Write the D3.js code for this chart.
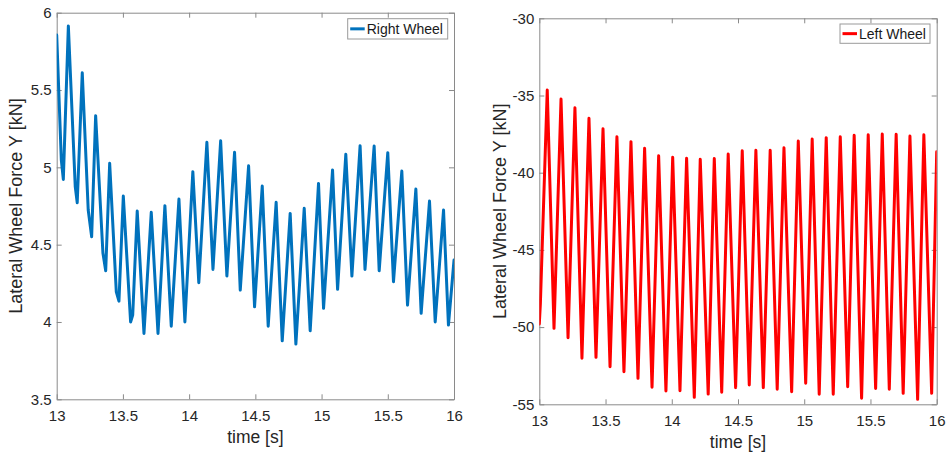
<!DOCTYPE html>
<html><head><meta charset="utf-8">
<script src="https://cdn.jsdelivr.net/npm/d3@7"></script>
<style>body{margin:0;background:#fff}svg{display:block}</style>
</head><body><svg id="c" width="948" height="456"></svg>
<script>
// ---- data ----
const timeTicks = [13, 13.5, 14, 14.5, 15, 15.5, 16];
const rightWheelTicks = [3.5, 4, 4.5, 5, 5.5, 6];
const leftWheelTicks = [-55, -50, -45, -40, -35, -30];

const rightWheelTime = [13.000,13.035,13.050,13.088,13.140,13.155,13.193,13.238,13.264,13.294,13.349,13.370,13.400,13.450,13.470,13.503,13.558,13.574,13.608,13.659,13.714,13.765,13.817,13.865,13.923,13.968,14.028,14.073,14.134,14.180,14.238,14.285,14.343,14.386,14.449,14.494,14.552,14.597,14.657,14.703,14.763,14.806,14.869,14.914,14.977,15.015,15.083,15.121,15.183,15.229,15.291,15.328,15.397,15.435,15.500,15.543,15.606,15.649,15.712,15.752,15.815,15.858,15.921,15.958,16.000];
const rightWheelForce = [5.856,5.047,4.922,5.914,4.875,4.771,5.612,4.724,4.551,5.334,4.446,4.331,5.026,4.195,4.135,4.814,4.000,4.045,4.717,3.926,4.709,3.926,4.752,3.973,4.795,4.000,4.972,4.254,5.162,4.340,5.172,4.297,5.097,4.206,5.010,4.098,4.879,3.973,4.774,3.878,4.702,3.857,4.735,3.943,4.896,4.088,4.983,4.211,5.084,4.297,5.140,4.340,5.138,4.331,5.095,4.260,4.976,4.109,4.860,4.056,4.782,4.000,4.724,3.980,4.400];

const leftWheelTime = [13.000,13.008,13.060,13.111,13.164,13.217,13.269,13.322,13.375,13.428,13.481,13.534,13.586,13.639,13.692,13.745,13.795,13.851,13.901,13.956,14.007,14.062,14.112,14.170,14.215,14.275,14.321,14.377,14.426,14.482,14.532,14.585,14.635,14.691,14.743,14.796,14.847,14.905,14.955,15.011,15.060,15.113,15.166,15.219,15.272,15.328,15.377,15.433,15.483,15.539,15.589,15.642,15.694,15.747,15.798,15.856,15.903,15.962,16.000];
const leftWheelForce = [-49.8,-48.5,-34.64,-50.08,-35.23,-50.69,-35.79,-52.02,-36.48,-51.96,-37.15,-52.56,-37.67,-52.89,-37.99,-53.32,-38.42,-53.90,-38.90,-54.14,-39.00,-54.12,-39.07,-54.55,-39.13,-54.34,-39.08,-54.22,-38.79,-53.92,-38.58,-53.75,-38.55,-53.92,-38.55,-54.03,-38.38,-54.18,-37.95,-53.64,-37.82,-54.35,-37.73,-54.35,-37.67,-53.86,-37.58,-54.61,-37.54,-53.97,-37.49,-54.03,-37.51,-54.29,-37.62,-54.68,-37.54,-54.29,-38.64];

const svg = d3.select('#c');
svg.append('rect').attr('width',948).attr('height',456).attr('fill','#fff');

const FONT = 'Liberation Sans, Arial, Helvetica, sans-serif';
const AXIS_COL = '#8a8a8a';
const TEXT_COL = '#262626';

function panel(o) {
  const x = d3.scaleLinear().domain([13,16]).range([o.x0, o.x1]);
  const y = d3.scaleLinear().domain([o.yTicks[0], o.yTicks[o.yTicks.length-1]]).range([o.y1, o.y0]);
  const g = svg.append('g');
  const clipId = 'clip' + o.id;
  g.append('clipPath').attr('id', clipId).append('rect')
    .attr('x', o.x0).attr('y', o.y0).attr('width', o.x1-o.x0).attr('height', o.y1-o.y0);

  const fmt = d => String(d);
  const bottom = g.append('g').attr('transform',`translate(0,${o.y1})`)
    .call(d3.axisBottom(x).tickValues(timeTicks).tickSize(-5).tickSizeOuter(0).tickPadding(11).tickFormat(fmt));
  const top = g.append('g').attr('transform',`translate(0,${o.y0})`)
    .call(d3.axisTop(x).tickValues(timeTicks).tickSize(-5).tickSizeOuter(0).tickFormat(''));
  const left = g.append('g').attr('transform',`translate(${o.x0},0)`)
    .call(d3.axisLeft(y).tickValues(o.yTicks).tickSize(-5).tickSizeOuter(0).tickPadding(5).tickFormat(fmt));
  const right = g.append('g').attr('transform',`translate(${o.x1},0)`)
    .call(d3.axisRight(y).tickValues(o.yTicks).tickSize(-5).tickSizeOuter(0).tickFormat(''));
  [bottom, top, left, right].forEach(a => {
    a.selectAll('path.domain').attr('stroke', AXIS_COL).attr('stroke-width', 1);
    a.selectAll('.tick line').attr('stroke', AXIS_COL);
    a.selectAll('text').attr('fill', TEXT_COL).style('font-family', FONT).style('font-size','15px');
  });

  const pts = o.t.map((t,i) => [t, o.v[i]]);
  g.append('path').datum(pts)
    .attr('clip-path', `url(#${clipId})`)
    .attr('fill','none').attr('stroke', o.color).attr('stroke-width', o.lw)
    .attr('stroke-linejoin','round').attr('stroke-linecap','round')
    .attr('d', d3.line().x(d => x(d[0])).y(d => y(d[1])));

  // axis labels
  g.append('text').attr('x', (o.x0+o.x1)/2).attr('y', o.y1 + 44)
    .attr('text-anchor','middle').attr('fill', TEXT_COL)
    .style('font-family', FONT).style('font-size','17.5px').text('time [s]');
  g.append('text')
    .attr('transform', `translate(${o.ylabX},${(o.y0+o.y1)/2}) rotate(-90)`)
    .attr('text-anchor','middle').attr('fill', TEXT_COL)
    .style('font-family', FONT).style('font-size','18px').text('Lateral Wheel Force Y [kN]');

  // legend
  const lg = g.append('g');
  lg.append('rect').attr('x', o.leg.x).attr('y', o.leg.y).attr('width', o.leg.w).attr('height', o.leg.h)
    .attr('fill','#fff').attr('stroke','#9a9a9a').attr('stroke-width',1);
  const cy = o.leg.y + o.leg.h/2;
  lg.append('line').attr('x1', o.leg.x+2.5).attr('x2', o.leg.x+17).attr('y1', cy).attr('y2', cy)
    .attr('stroke', o.color).attr('stroke-width', 3);
  lg.append('text').attr('x', o.leg.x+19).attr('y', cy+5)
    .attr('fill', '#1a1a1a').style('font-family', FONT).style('font-size','14px').text(o.name);
}

panel({id:'L', x0:56.7, x1:454, y0:12.7, y1:399.3, yTicks:rightWheelTicks,
  t:rightWheelTime, v:rightWheelForce, color:'#0072BD', lw:3, ylabX:22,
  leg:{x:347.7, y:18.7, w:100, h:20.3}, name:'Right Wheel'});
panel({id:'R', x0:539.3, x1:936.7, y0:18.3, y1:404.3, yTicks:leftWheelTicks,
  t:leftWheelTime, v:leftWheelForce, color:'#FF0000', lw:3, ylabX:506,
  leg:{x:840, y:24, w:90, h:19.3}, name:'Left Wheel'});
</script>
</body></html>
